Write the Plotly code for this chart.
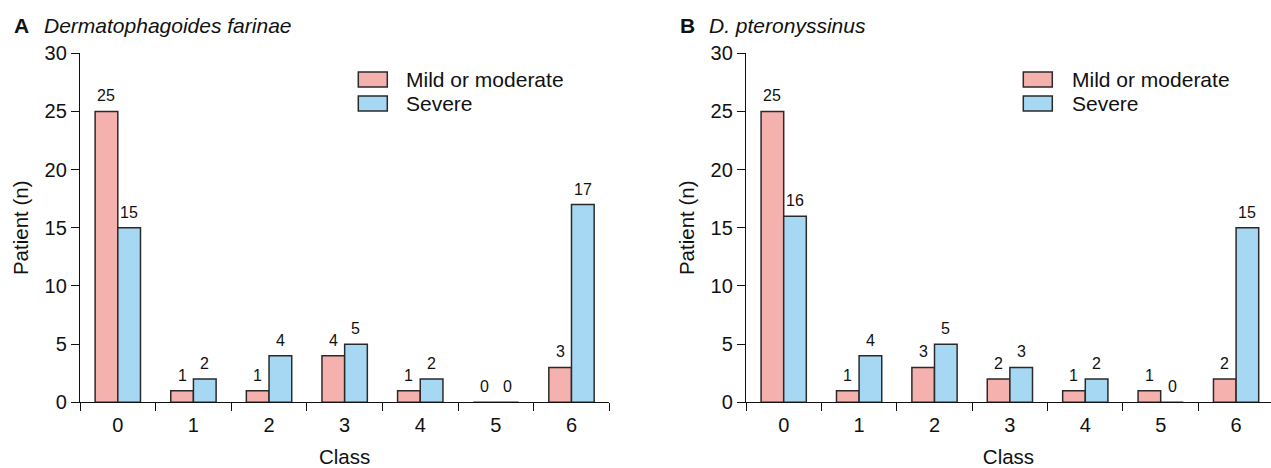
import plotly.graph_objects as go

W, H = 1271, 468

classes = ["0", "1", "2", "3", "4", "5", "6"]
farinae_mild = [25, 1, 1, 4, 1, 0, 3]
farinae_severe = [15, 2, 4, 5, 2, 0, 17]
ptero_mild = [25, 1, 3, 2, 1, 1, 2]
ptero_severe = [16, 4, 5, 3, 2, 0, 15]
series_names = ["Mild or moderate", "Severe"]
panel_letters = ["A", "B"]
panel_titles = ["Dermatophagoides farinae", "D. pteronyssinus"]
y_ticks = [0, 5, 10, 15, 20, 25, 30]

PINK = "#F4B1AE"
BLUE = "#A6D7F3"
EDGE = "#2a2a2a"
FONT = "Liberation Sans, Arial, Helvetica, sans-serif"

def px(x):
    return x / W

def py(y):
    return 1 - y / H

fig = go.Figure()

panels = [
    dict(mild=farinae_mild, sev=farinae_severe, xa="x", ya="y"),
    dict(mild=ptero_mild, sev=ptero_severe, xa="x2", ya="y2"),
]

BW = 0.3
for p in panels:
    fig.add_trace(go.Bar(x=classes, y=p["mild"], name=series_names[0], width=BW, offset=-BW,
                         marker=dict(color=PINK, line=dict(color=EDGE, width=1.5)),
                         xaxis=p["xa"], yaxis=p["ya"], showlegend=False))
    fig.add_trace(go.Bar(x=classes, y=p["sev"], name=series_names[1], width=BW, offset=0,
                         marker=dict(color=BLUE, line=dict(color=EDGE, width=1.5)),
                         xaxis=p["xa"], yaxis=p["ya"], showlegend=False))

annotations = []
for p in panels:
    for i, (m, s) in enumerate(zip(p["mild"], p["sev"])):
        for val, off in ((m, -BW / 2), (s, BW / 2)):
            annotations.append(dict(x=i + off, y=val, xref=p["xa"], yref=p["ya"], text=str(val),
                                    showarrow=False, xanchor="center", yanchor="bottom", yshift=5,
                                    font=dict(size=16, color="#111", family=FONT)))

ydom = [py(402.3), py(53.3)]
axis_common = dict(showline=True, linecolor="#111", linewidth=1.3, showgrid=False, zeroline=False,
                   automargin=False,
                   tickfont=dict(size=20, color="#111", family=FONT), tickcolor="#111", tickwidth=1.3)

xa_common = dict(axis_common, type="category", tickson="boundaries", ticks="outside", ticklen=8,
                 ticklabelstandoff=5,
                 title=dict(text="Class", font=dict(size=20.5, color="#111", family=FONT), standoff=14))
ya_common = dict(axis_common, range=[0, 30], tickvals=y_ticks, ticks="outside", ticklen=8,
                 title=dict(text="Patient (n)", font=dict(size=20.5, color="#111", family=FONT), standoff=10))

layout = dict(
    width=W, height=H, margin=dict(l=0, r=0, t=0, b=0, autoexpand=False),
    template="none",
    paper_bgcolor="white", plot_bgcolor="white", barmode="group",
    font=dict(family=FONT, color="#111"),
    xaxis=dict(xa_common, domain=[px(80), px(609.3)], range=[-0.5, 6.5], anchor="y"),
    yaxis=dict(ya_common, domain=ydom, anchor="x"),
    xaxis2=dict(xa_common, domain=[px(746), 1.0], range=[-0.5, 6.463], anchor="y2"),
    yaxis2=dict(ya_common, domain=ydom, anchor="x2"),
)

# panel titles
title_pos = [(12, 42), (678, 707)]
for (lx, tx), letter, title in zip(title_pos, panel_letters, panel_titles):
    annotations.append(dict(x=px(lx), y=py(25), xref="paper", yref="paper", text="<b>%s</b>" % letter,
                            showarrow=False, xanchor="left", yanchor="middle",
                            font=dict(size=21, color="#111", family=FONT)))
    annotations.append(dict(x=px(tx), y=py(25), xref="paper", yref="paper", text="<i>%s</i>" % title,
                            showarrow=False, xanchor="left", yanchor="middle",
                            font=dict(size=21, color="#111", family=FONT)))

# legends
shapes = []
legend_pos = [(358.3, 404), (1023.3, 1070)]
for bx, tx in legend_pos:
    for j, (col, yc) in enumerate(((PINK, 79.5), (BLUE, 103.5))):
        shapes.append(dict(type="rect", xref="paper", yref="paper", x0=px(bx), x1=px(bx + 29),
                           y0=py(yc - 7.5), y1=py(yc + 7.5), fillcolor=col,
                           line=dict(color=EDGE, width=1.5)))
        annotations.append(dict(x=px(tx), y=py(yc), xref="paper", yref="paper", text=series_names[j],
                                showarrow=False, xanchor="left", yanchor="middle",
                                font=dict(size=21, color="#111", family=FONT)))

layout["annotations"] = annotations
layout["shapes"] = shapes
fig.update_layout(**layout)
fig.write_html("out.html")
